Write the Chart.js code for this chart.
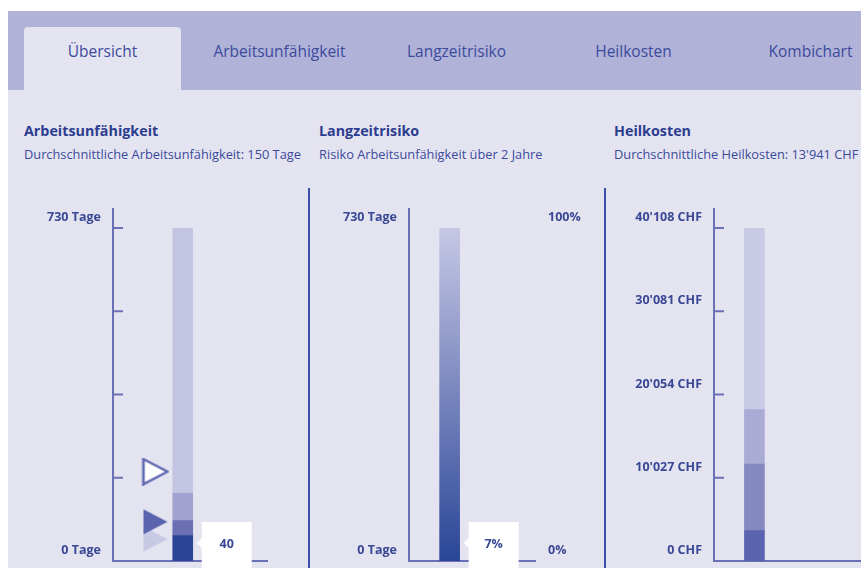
<!DOCTYPE html>
<html lang="de">
<head>
<meta charset="utf-8">
<title>Übersicht</title>
<script src="https://cdn.jsdelivr.net/npm/chart.js@4.4.1/dist/chart.umd.min.js"></script>
<style>
  html, body { margin: 0; padding: 0; background: #ffffff; }
  body { width: 861px; height: 568px; position: relative; overflow: hidden; font-family: "Open Sans", Roboto, sans-serif; }
  .tabbar { position: absolute; left: 8px; top: 11px; right: 0; height: 79px; background: #b0b2d8; }
  .tab-active { position: absolute; left: 24px; top: 27px; width: 157px; height: 63px; background: #e4e4f1; border-radius: 4px 4px 0 0; }
  .tab { position: absolute; top: 41px; width: 177px; height: 20px; line-height: 20px; text-align: center; font-size: 15.5px; color: #3c4a9c; }
  .content { position: absolute; left: 8px; top: 90px; right: 0; bottom: 0; background: #e4e4f1; }
  .title { position: absolute; top: 122px; height: 18px; line-height: 18px; font-size: 14.3px; font-weight: bold; color: #2c3d8f; white-space: nowrap; }
  .sub { position: absolute; top: 146px; height: 16px; line-height: 16px; font-size: 12.8px; color: #3b4a9b; white-space: nowrap; }
  .divider { position: absolute; top: 188px; width: 2px; height: 380px; background: #3d4fa5; }
  canvas.panel { position: absolute; }
</style>
</head>
<body>
<div class="tabbar"></div>
<div class="tab-active"></div>
<div class="tab" style="left:14px">Übersicht</div>
<div class="tab" style="left:191px">Arbeitsunfähigkeit</div>
<div class="tab" style="left:368px">Langzeitrisiko</div>
<div class="tab" style="left:545px">Heilkosten</div>
<div class="tab" style="left:722px">Kombichart</div>
<div class="content"></div>

<div class="title" style="left:24px">Arbeitsunfähigkeit</div>
<div class="sub" style="left:24px">Durchschnittliche Arbeitsunfähigkeit: 150 Tage</div>
<div class="title" style="left:319px">Langzeitrisiko</div>
<div class="sub" style="left:319px">Risiko Arbeitsunfähigkeit über 2 Jahre</div>
<div class="title" style="left:614px">Heilkosten</div>
<div class="sub" style="left:614px">Durchschnittliche Heilkosten: 13'941 CHF</div>

<div class="divider" style="left:308px"></div>
<div class="divider" style="left:604px"></div>

<canvas id="absence" class="panel" width="295" height="378" style="left:10px;top:190px;width:295px;height:378px"></canvas>
<canvas id="risk" class="panel" width="290" height="378" style="left:312px;top:190px;width:290px;height:378px"></canvas>
<canvas id="costs" class="panel" width="254" height="378" style="left:607px;top:190px;width:254px;height:378px"></canvas>

<script>
// ---- values ----
// Absence days: band boundaries of the stacked column (days)
const absenceBounds = [0, 57, 90, 150, 730];
// Marker triangles (days): faint, filled, outlined
const absenceMarkers = [48, 86, 196];
const absenceDayTicks = [0, 182.5, 365, 547.5, 730];
const absenceValueLabel = '40';

// Long-term risk
const riskDayTicks = [0, 730];
const riskPercentTicks = [0, 100];
const riskRange = [0, 100];
const riskValueLabel = '7%';

// Healing costs: band boundaries (CHF)
const costBounds = [0, 3734, 11767, 18307, 40108];
const costTicks = [0, 10027, 20054, 30081, 40108];

// ---- styling ----
const AXIS_COLOR = '#6a70b5';
const LABEL_COLOR = '#3a4795';
const FONT_STACK = '"Open Sans", Roboto, sans-serif';
const absenceColors = ['#2c4597', '#6a70b3', '#a1a2cf', '#c3c4e2'];
const costColors = ['#5a63ad', '#8589c1', '#aaacd6', '#c9cae5'];
const riskGradient = ['#c6c7e4', '#2a4597'];

Chart.defaults.font.family = FONT_STACK;
Chart.defaults.animation = false;

const tickFont = { family: FONT_STACK, size: 12.5, weight: 'bold' };

function bands(bounds) {
  const out = [];
  for (let i = 0; i < bounds.length - 1; i++) out.push([bounds[i], bounds[i + 1]]);
  return out;
}

function swissNumber(v) {
  return String(v).replace(/\B(?=(\d{3})+(?!\d))/g, "'");
}

function makeTriangle(fill, stroke) {
  const c = document.createElement('canvas');
  c.width = 28; c.height = 28;
  const g = c.getContext('2d');
  g.beginPath();
  g.moveTo(2, 1.5);
  g.lineTo(26, 14);
  g.lineTo(2, 26.5);
  g.closePath();
  g.fillStyle = fill;
  g.fill();
  if (stroke) {
    g.lineWidth = 2.5;
    g.lineJoin = 'miter';
    g.strokeStyle = stroke;
    g.stroke();
  }
  return c;
}

// Axis line (overhanging the top), baseline and inward tick marks
const axisFrame = {
  id: 'axisFrame',
  beforeDatasetsDraw(chart, args, opts) {
    const { ctx, chartArea: a } = chart;
    const scale = chart.scales[opts.scaleId || 'y'];
    ctx.save();
    ctx.strokeStyle = AXIS_COLOR;
    ctx.lineWidth = 2;
    ctx.beginPath();
    ctx.moveTo(a.left, a.top - (opts.overhang || 0));
    ctx.lineTo(a.left, a.bottom);
    ctx.lineTo(a.right, a.bottom);
    if (opts.tickLength) {
      scale.ticks.forEach(t => {
        const py = scale.getPixelForValue(t.value);
        if (Math.abs(py - a.bottom) < 1) return;
        ctx.moveTo(a.left, py);
        ctx.lineTo(a.left + opts.tickLength, py);
      });
    }
    ctx.stroke();
    ctx.restore();
  }
};

// White value box with a small pointer on its left, beside the column
const valueCallout = {
  id: 'valueCallout',
  afterDatasetsDraw(chart, args, opts) {
    if (!opts.text) return;
    const { ctx, chartArea: a } = chart;
    const bar = chart.getDatasetMeta(opts.datasetIndex || 0).data[0];
    if (!bar) return;
    const left = bar.x + bar.width / 2 + 9;
    const w = 50;
    const py = a.bottom - 18;
    ctx.save();
    ctx.fillStyle = '#ffffff';
    ctx.fillRect(left, py - 21, w, chart.height - (py - 21));
    ctx.beginPath();
    ctx.moveTo(left, py - 5);
    ctx.lineTo(left - 5, py);
    ctx.lineTo(left, py + 5);
    ctx.closePath();
    ctx.fill();
    ctx.fillStyle = LABEL_COLOR;
    ctx.font = 'bold 12.5px ' + FONT_STACK;
    ctx.textAlign = 'center';
    ctx.textBaseline = 'middle';
    ctx.fillText(opts.text, left + w / 2, py + 1);
    ctx.restore();
  }
};

function yAxis(width, ticks, label, extra) {
  return Object.assign({
    position: 'left',
    min: ticks[0],
    max: ticks[ticks.length - 1],
    grid: { display: false, drawTicks: false },
    border: { display: false },
    afterBuildTicks(scale) { scale.ticks = ticks.map(v => ({ value: v })); },
    afterFit(scale) { scale.width = width; scale.paddingTop = 0; scale.paddingBottom = 0; },
    ticks: {
      padding: 12,
      labelOffset: -10.5,
      autoSkip: false,
      color: LABEL_COLOR,
      font: tickFont,
      callback: label
    }
  }, extra || {});
}

const hiddenX = { type: 'linear', min: 0, max: 10, display: false, offset: false };
const baseOptions = {
  responsive: false,
  maintainAspectRatio: false,
  events: [],
  plugins: { legend: { display: false }, tooltip: { enabled: false } }
};

// ---- Arbeitsunfähigkeit ----
new Chart(document.getElementById('absence'), {
  type: 'bar',
  data: {
    datasets: [
      {
        type: 'bar',
        data: bands(absenceBounds).map(r => ({ x: 4.5, y: r })),
        backgroundColor: absenceColors,
        barThickness: 20,
        borderWidth: 0,
        borderSkipped: false
      },
      {
        type: 'scatter',
        data: absenceMarkers.map(v => ({ x: 2.74, y: v })),
        pointStyle: [makeTriangle('#c8c9e5'), makeTriangle('#5a63ad'), makeTriangle('#ffffff', '#5d66b0')],
        pointRadius: 13,
        clip: false
      }
    ]
  },
  options: Object.assign({}, baseOptions, {
    layout: { autoPadding: false, padding: { left: 0, top: 38, right: 37, bottom: 7 } },
    scales: {
      x: hiddenX,
      y: yAxis(103, absenceDayTicks, v => (v === 0 || v === 730) ? v + ' Tage' : '')
    },
    plugins: Object.assign({}, baseOptions.plugins, {
      axisFrame: { overhang: 20, tickLength: 10 },
      valueCallout: { text: absenceValueLabel, datasetIndex: 0 }
    })
  }),
  plugins: [axisFrame, valueCallout]
});

// ---- Langzeitrisiko ----
new Chart(document.getElementById('risk'), {
  type: 'bar',
  data: {
    datasets: [{
      data: [{ x: 3.2, y: riskRange }],
      yAxisID: 'y2',
      barThickness: 20,
      borderWidth: 0,
      borderSkipped: false,
      backgroundColor(ctx) {
        const a = ctx.chart.chartArea;
        if (!a) return riskGradient[1];
        const g = ctx.chart.ctx.createLinearGradient(0, a.top, 0, a.bottom);
        g.addColorStop(0, riskGradient[0]);
        g.addColorStop(1, riskGradient[1]);
        return g;
      }
    }]
  },
  options: Object.assign({}, baseOptions, {
    layout: { autoPadding: false, padding: { left: 0, top: 38, right: 0, bottom: 7 } },
    scales: {
      x: hiddenX,
      y: yAxis(97, riskDayTicks, v => v + ' Tage'),
      y2: yAxis(66, riskPercentTicks, v => v + '%', { position: 'right' })
    },
    plugins: Object.assign({}, baseOptions.plugins, {
      axisFrame: { overhang: 20, tickLength: 0 },
      valueCallout: { text: riskValueLabel, datasetIndex: 0 }
    })
  }),
  plugins: [axisFrame, valueCallout]
});

// ---- Heilkosten ----
new Chart(document.getElementById('costs'), {
  type: 'bar',
  data: {
    datasets: [{
      data: bands(costBounds).map(r => ({ x: 2.75, y: r })),
      backgroundColor: costColors,
      barThickness: 20,
      borderWidth: 0,
      borderSkipped: false
    }]
  },
  options: Object.assign({}, baseOptions, {
    layout: { autoPadding: false, padding: { left: 0, top: 38, right: 0, bottom: 7 } },
    scales: {
      x: hiddenX,
      y: yAxis(107, costTicks, v => swissNumber(v) + ' CHF')
    },
    plugins: Object.assign({}, baseOptions.plugins, {
      axisFrame: { overhang: 20, tickLength: 10 }
    })
  }),
  plugins: [axisFrame]
});
</script>
</body>
</html>
